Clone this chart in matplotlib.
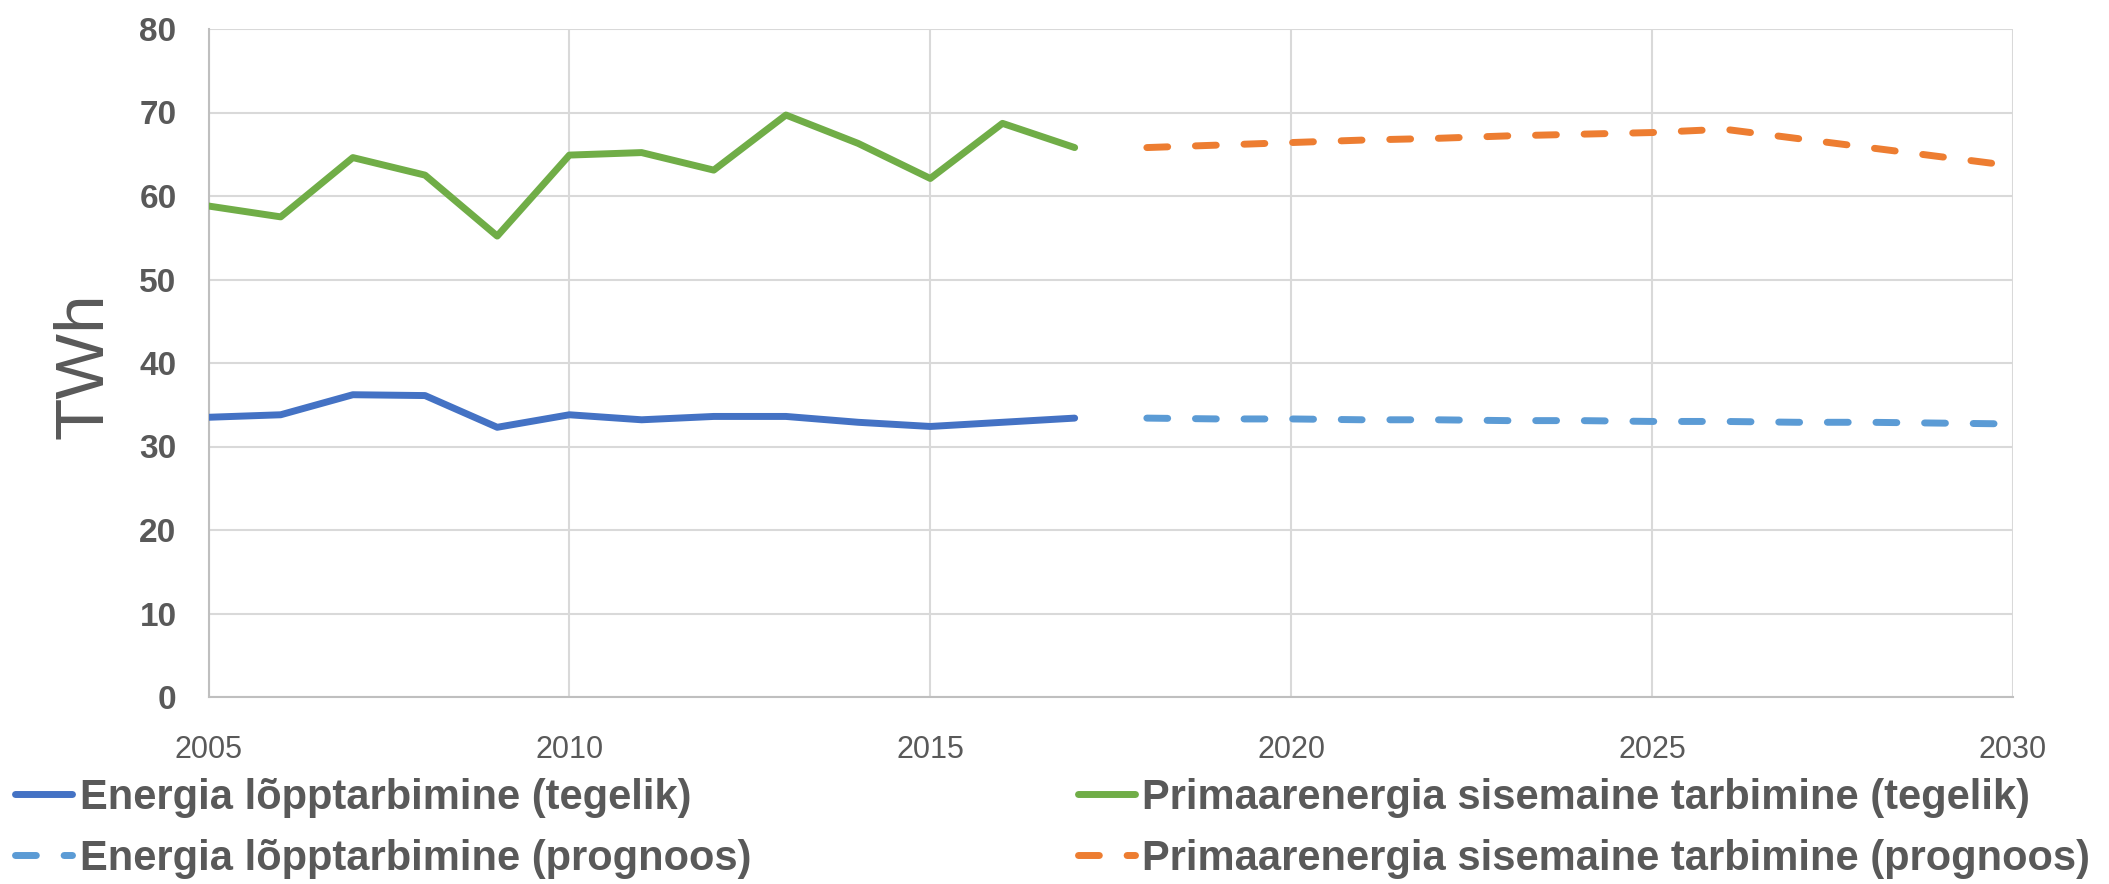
import matplotlib
matplotlib.use("Agg")
import matplotlib.pyplot as plt
from matplotlib.lines import Line2D

# ---- data ----
years_actual = [2005, 2006, 2007, 2008, 2009, 2010, 2011, 2012, 2013, 2014, 2015, 2016, 2017]
final_actual = [33.5, 33.8, 36.2, 36.1, 32.3, 33.8, 33.2, 33.6, 33.6, 32.9, 32.4, 32.9, 33.4]
primary_actual = [58.8, 57.5, 64.6, 62.5, 55.2, 64.9, 65.2, 63.1, 69.7, 66.3, 62.1, 68.7, 65.8]

years_forecast = [2018, 2019, 2020, 2021, 2022, 2023, 2024, 2025, 2026, 2027, 2028, 2029, 2030]
final_forecast = [33.4, 33.3, 33.3, 33.2, 33.2, 33.1, 33.1, 33.0, 33.0, 32.9, 32.9, 32.8, 32.7]
primary_forecast = [65.8, 66.1, 66.4, 66.7, 66.9, 67.2, 67.4, 67.6, 68.0, 66.9, 65.8, 64.7, 63.6]

labels = ["Energia lõpptarbimine (tegelik)",
          "Energia lõpptarbimine (prognoos)",
          "Primaarenergia sisemaine tarbimine (tegelik)",
          "Primaarenergia sisemaine tarbimine (prognoos)"]
x_ticks = [2005, 2010, 2015, 2020, 2025, 2030]
y_ticks = [0, 10, 20, 30, 40, 50, 60, 70, 80]

plt.rcParams['font.family'] = ['Liberation Sans', 'DejaVu Sans']

GRAY = "#595959"
C_BLUE = "#4472C4"
C_LBLUE = "#5B9BD5"
C_GREEN = "#70AD47"
C_ORANGE = "#ED7D31"

W, H = 2109, 884
fig = plt.figure(figsize=(W / 100, H / 100), dpi=100)
ax = fig.add_axes([208.5 / W, 1 - 697 / H, (2013 - 208.5) / W, (697 - 29) / H])

lw = 5
dash = (3.0, 4.0)
ax.plot(years_actual, final_actual, color=C_BLUE, lw=lw, solid_capstyle='round', solid_joinstyle='round', zorder=3)
ax.plot(years_actual, primary_actual, color=C_GREEN, lw=lw, solid_capstyle='round', solid_joinstyle='round', zorder=3)
ax.plot(years_forecast, final_forecast, color=C_LBLUE, lw=lw, dashes=dash, dash_capstyle='round', dash_joinstyle='round', zorder=3)
ax.plot(years_forecast, primary_forecast, color=C_ORANGE, lw=lw, dashes=dash, dash_capstyle='round', dash_joinstyle='round', zorder=3)

ax.set_xlim(2005, 2030)
ax.set_ylim(0, 80)
ax.set_xticks(x_ticks)
ax.set_yticks(y_ticks)
ax.grid(True, color="#d9d9d9", lw=1.5, zorder=0)
ax.set_axisbelow(True)
for s in ['top', 'right']:
    ax.spines[s].set_visible(False)
for s in ['left', 'bottom']:
    ax.spines[s].set_color("#bfbfbf")
    ax.spines[s].set_linewidth(1.5)

ax.tick_params(axis='both', length=0)
ax.tick_params(axis='y', pad=23, labelsize=24, labelcolor=GRAY)
ax.tick_params(axis='x', pad=27, labelsize=22, labelcolor=GRAY)
for t in ax.get_yticklabels():
    t.set_fontweight('bold')

fig.text(84 / W, 1 - 366 / H, "TWh", rotation=90, ha='center', va='center',
         fontsize=50, color=GRAY)

h_blue = Line2D([], [], color=C_BLUE, lw=lw, solid_capstyle='round')
h_lblue = Line2D([], [], color=C_LBLUE, lw=lw, dashes=dash, dash_capstyle='round')
h_green = Line2D([], [], color=C_GREEN, lw=lw, solid_capstyle='round')
h_orange = Line2D([], [], color=C_ORANGE, lw=lw, dashes=dash, dash_capstyle='round')

common = dict(frameon=False, handlelength=1.37, handletextpad=0.18, labelspacing=0.5,
              prop={'weight': 'bold', 'size': 30},
              labelcolor=GRAY, borderaxespad=0, borderpad=0)
leg1 = fig.legend([h_blue, h_lblue], labels[:2], loc='upper left',
                  bbox_to_anchor=(15 / W, 1 - 778 / H), **common)
leg2 = fig.legend([h_green, h_orange], labels[2:], loc='upper left',
                  bbox_to_anchor=(1077.5 / W, 1 - 778 / H), **common)

fig.savefig("out.png", dpi=100)
